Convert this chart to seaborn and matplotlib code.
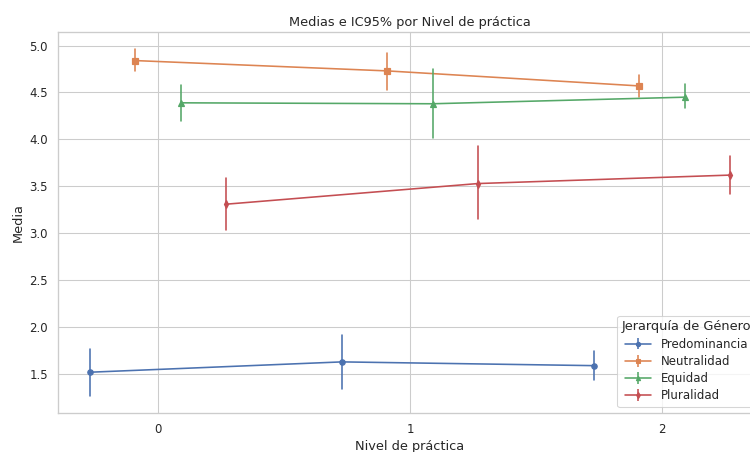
import numpy as np
import pandas as pd
import seaborn as sns
import matplotlib.pyplot as plt

# ---- data ----
niveles = [0, 1, 2]
grupos = ["Predominancia", "Neutralidad", "Equidad", "Pluralidad"]

pred_media = [1.52, 1.63, 1.59]
pred_lo = [1.27, 1.34, 1.44]
pred_hi = [1.77, 1.92, 1.75]

neut_media = [4.84, 4.73, 4.57]
neut_lo = [4.73, 4.53, 4.45]
neut_hi = [4.96, 4.92, 4.69]

equi_media = [4.39, 4.38, 4.45]
equi_lo = [4.20, 4.02, 4.33]
equi_hi = [4.58, 4.75, 4.59]

plur_media = [3.31, 3.53, 3.62]
plur_lo = [3.03, 3.15, 3.42]
plur_hi = [3.59, 3.93, 3.82]

marcadores = ["o", "s", "^", "d"]

series = {
    "Predominancia": (pred_lo, pred_media, pred_hi),
    "Neutralidad": (neut_lo, neut_media, neut_hi),
    "Equidad": (equi_lo, equi_media, equi_hi),
    "Pluralidad": (plur_lo, plur_media, plur_hi),
}

rows = []
for g in grupos:
    lo, me, hi = series[g]
    for i, n in enumerate(niveles):
        for v in (lo[i], me[i], hi[i]):
            rows.append({"Nivel de práctica": n, "Jerarquía de Género": g, "Media": v})
df = pd.DataFrame(rows)

DPI = 77.2
sns.set_theme(style="whitegrid")
fig = plt.figure(figsize=(750 / DPI, 452 / DPI), dpi=DPI)
ax = fig.add_axes([58 / 750, 39 / 452, 704 / 750, 381 / 452])

palette = sns.color_palette("deep", len(grupos))
sns.pointplot(
    data=df, x="Nivel de práctica", y="Media", hue="Jerarquía de Género",
    hue_order=grupos, palette=palette, estimator="median",
    errorbar=lambda v: (v.min(), v.max()), native_scale=True,
    dodge=0.54, markers=marcadores, linestyles="-", linewidth=1.5,
    markersize=5, err_kws={"linewidth": 1.5}, legend=False, ax=ax,
)

ax.set_xticks(niveles)
ax.set_xticklabels([str(n) for n in niveles])
ax.set_title("Medias e IC95% por Nivel de práctica")
ax.set_xlabel("Nivel de práctica")
ax.set_ylabel("Media")

# legend handles in errorbar style
handles = []
for g, c, m in zip(grupos, palette, marcadores):
    h = ax.errorbar([np.nan], [np.nan], yerr=[np.nan], color=c, marker=m,
                    markersize=4, linewidth=1.5, label=g)
    handles.append(h)
ax.legend(handles=handles, labels=grupos, title="Jerarquía de Género",
          loc="lower right", fontsize=11, title_fontsize=12,
          labelspacing=0.36, handlelength=2.2)

fig.savefig("out.png", dpi=DPI)
